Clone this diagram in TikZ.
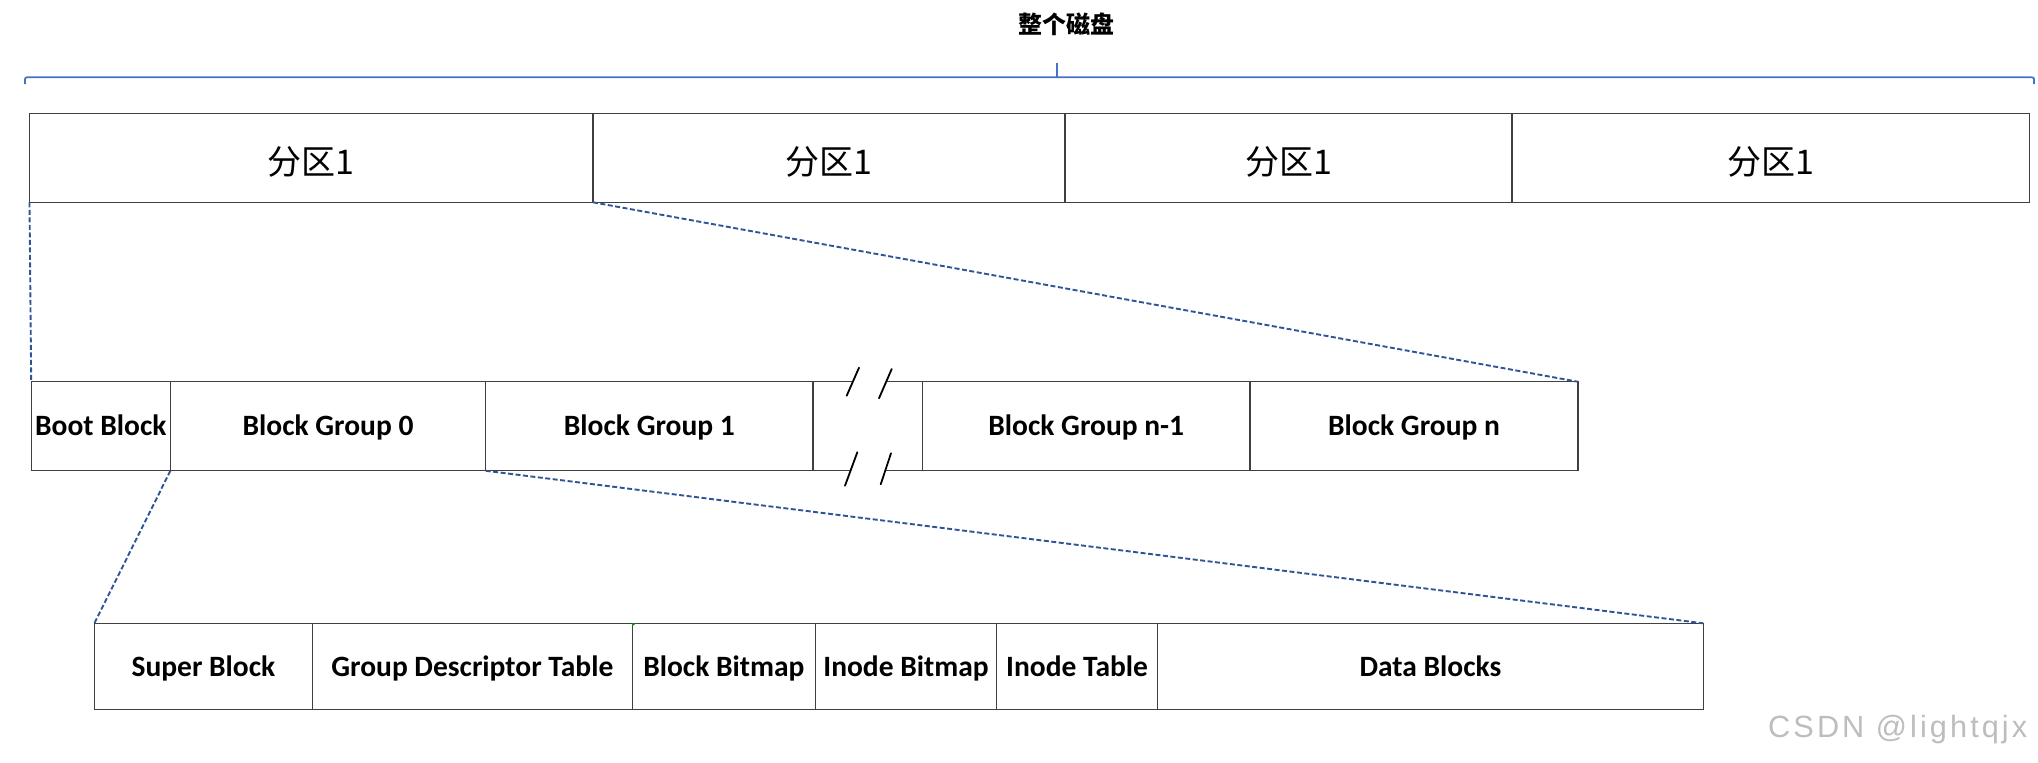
\documentclass[tikz,border=0pt]{standalone}
\usepackage{fontspec}
\newfontfamily\cjk{Noto Sans CJK SC}
\newfontfamily\lbl{Carlito}
\newfontfamily\wmfont[LetterSpace=10]{Liberation Sans}
\definecolor{braceblue}{HTML}{4472C4}
\definecolor{dashblue}{HTML}{2F5597}
\definecolor{wmgray}{HTML}{BDBDBD}
\tikzset{
  cell/.style={draw=black!75, line width=1.2pt, inner sep=0pt, outer sep=0pt, minimum height=89pt},
  partcell/.style={cell, font=\cjk\fontsize{34}{40}\selectfont, text height=33pt, text depth=0pt},
  blkcell/.style={cell, font=\lbl\bfseries\fontsize{29.5}{34}\selectfont, text height=19pt, text depth=0pt},
  subcell/.style={blkcell, minimum height=86.4pt},
  zoomline/.style={draw=dashblue, line width=1.9pt, dash pattern=on 5pt off 2.5pt},
  bracestyle/.style={draw=braceblue, line width=1.8pt},
  breakmark/.style={draw=black, line width=1.8pt, line cap=round},
  edgeline/.style={draw=black!75, line width=1.2pt}
}
\begin{document}
\begin{tikzpicture}[x=1pt, y=-1pt]
\useasboundingbox (0,0) rectangle (2038,763);

% title and brace
\node[font=\cjk\bfseries\fontsize{24}{28}\selectfont, inner sep=0pt] (title) at (1066,24.5) {整个磁盘};
\coordinate (bl) at (25,84);
\coordinate (bc) at (1057,77.3);
\coordinate (bt) at (1057,63.3);
\coordinate (br) at (2034,84);
\draw[bracestyle, rounded corners=2pt] (bl) |- (bc) -| (br);
\draw[bracestyle] (bc) -- (bt);

% whole disk
\node[partcell, minimum width=563.5pt] (t1) at (311.25,157.8) {分区1};
\node[partcell, minimum width=472pt]   (t2) at (829,157.8) {分区1};
\node[partcell, minimum width=447pt]   (t3) at (1288.5,157.8) {分区1};
\node[partcell, minimum width=517.5pt] (t4) at (1770.75,157.8) {分区1};

% partition
\node[blkcell, minimum width=139.2pt] (boot) at (100.8,426.25) {Boot Block};
\node[blkcell, minimum width=315.3pt] (bg0) at (328.05,426.25) {Block Group 0};
\node[blkcell, minimum width=327.3pt] (bg1) at (649.35,426.25) {Block Group 1};
\node[inner sep=0pt, outer sep=0pt, minimum height=89pt, minimum width=109.5pt] (gap) at (867.75,426.25) {};
\node[blkcell, minimum width=327.5pt] (bgn1) at (1086.25,426.25) {Block Group n-1};
\node[blkcell, minimum width=328pt] (bgn) at (1414,426.25) {Block Group n};

\draw[edgeline] (gap.north west) -- ++(39.7,0);
\draw[edgeline] (gap.north east) -- ++(-36.5,0);
\draw[edgeline] (gap.south west) -- ++(37.4,0);
\draw[edgeline] (gap.south east) -- ++(-37.4,0);
\draw[breakmark] (859,367.7) -- (846.7,395.7);
\draw[breakmark] (891.7,369) -- (879,398.3);
\draw[breakmark] (857.3,452.3) -- (845,485.7);
\draw[breakmark] (891,453.3) -- (880.7,484.3);

% block group
\node[subcell, minimum width=218.1pt] (sb) at (203.45,666.5) {Super Block};
\node[subcell, minimum width=319.7pt] (gdt) at (472.35,666.5) {Group Descriptor Table};
\node[subcell, minimum width=183.4pt] (bb) at (723.9,666.5) {Block Bitmap};
\node[subcell, minimum width=180.9pt] (ib) at (906.05,666.5) {Inode Bitmap};
\node[subcell, minimum width=161.1pt] (it) at (1077.05,666.5) {Inode Table};
\node[subcell, minimum width=545.7pt] (db) at (1430.45,666.5) {Data Blocks};
\fill[green!60!black] (bb.north west) -- ++(4,0) -- ++(-4,3) -- cycle;

% zoom connectors
\draw[zoomline] (t1.south west) -- (boot.north west);
\draw[zoomline] (t1.south east) -- (bgn.north east);
\draw[zoomline] (bg0.south west) -- (sb.north west);
\draw[zoomline] (bg0.south east) -- (db.north east);

% watermark
\node[font=\wmfont\fontsize{30.7}{36}\selectfont, text=wmgray, anchor=base west, inner sep=0pt] (wm) at (1768,737) {CSDN @lightqjx};
\end{tikzpicture}
\end{document}
